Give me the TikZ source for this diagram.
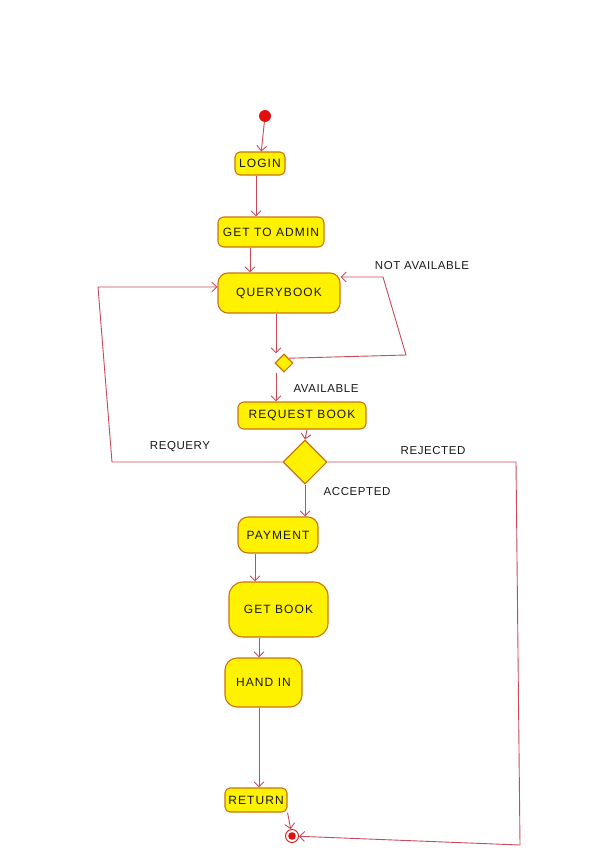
\documentclass[tikz,border=0pt]{standalone}
\usepackage{fontspec}
\setmainfont{Liberation Sans}[LetterSpace=5]
\newfontfamily\boxfont{Liberation Sans}[LetterSpace=9]
\usetikzlibrary{arrows.meta,shapes.geometric,calc}
\definecolor{boxfill}{HTML}{FFF200}
\definecolor{boxline}{HTML}{C8740E}
\definecolor{flow}{HTML}{C84A5A}
\definecolor{dotred}{HTML}{E01010}
\tikzset{
  act/.style={draw=boxline, line width=1.1pt, fill=boxfill, rounded corners=#1, inner sep=0pt, font=\boxfont\fontsize{12}{14}\selectfont, text=black!90},
  act/.default=6pt,
  choice/.style={draw=boxline, line width=1.1pt, fill=boxfill, diamond, inner sep=0pt, aspect=1},
  flowline/.style={draw=flow, line width=0.9pt, -{Straight Barb[length=5pt,width=10pt]}},
  lbl/.style={font=\fontsize{11.5}{13}\selectfont, text=black!90}
}
\begin{document}
\begin{tikzpicture}[x=1pt,y=-1pt]
\useasboundingbox (0,0) rectangle (590,856);
\fill[white] (0,0) rectangle (590,856);
% nodes
\node[circle, fill=dotred, minimum size=12pt, inner sep=0pt] (start) at (265,116) {};
\node[act=5pt, minimum width=50pt, minimum height=23pt] (login) at (260,163.5) {LOGIN};
\node[act=6pt, minimum width=106pt, minimum height=30pt] (admin) at (271,232) {GET TO ADMIN};
\node[act=10pt, minimum width=122pt, minimum height=40pt] (query) at (279,293) {QUERYBOOK};
\node[choice, minimum size=18pt] (d1) at (284,363) {};
\node[act=6pt, minimum width=128pt, minimum height=27pt] (req) at (302,415.5) {REQUEST BOOK};
\node[choice, minimum size=44pt] (d2) at (305,462) {};
\node[act=10pt, minimum width=80pt, minimum height=36pt] (pay) at (278,535) {PAYMENT};
\node[act=14pt, minimum width=99pt, minimum height=55pt] (getbook) at (278.5,609.5) {GET BOOK};
\node[act=12pt, minimum width=77pt, minimum height=49pt] (handin) at (263.5,682.5) {HAND IN};
\node[act=5pt, minimum width=62pt, minimum height=24pt] (ret) at (256,800) {RETURN};
\node[circle, draw=dotred, line width=0.9pt, fill=white, minimum size=13pt, inner sep=0pt,
  path picture={\fill[dotred] (path picture bounding box.center) circle (3.8pt);}] (final) at (292,836) {};
% waypoints
\coordinate (na1) at (406,355);
\coordinate (na2) at (383,277);
\coordinate (rq1) at (112,462);
\coordinate (rq2) at (98,287);
\coordinate (rj1) at (516,462);
\coordinate (rj2) at (520,845);
\coordinate (s1) at ($(login.south)+(-4,0)$);
\coordinate (s2) at ($(admin.south)+(-21,0)$);
\coordinate (s3) at ($(query.south)+(-3,0)$);
\coordinate (s4) at ($(d1.south)+(-8,0)$);
\coordinate (s5) at ($(req.south)+(5,0)$);
\coordinate (s6) at ($(pay.south)+(-23,0)$);
\coordinate (s7) at ($(getbook.south)+(-19.5,0)$);
\coordinate (s8) at ($(handin.south)+(-4.5,0)$);
\coordinate (qe) at ($(query.east)+(0,-16)$);
\coordinate (qw) at ($(query.west)+(0,-6)$);
% connectors
\draw[flowline] (start) -- (login);
\draw[flowline] (s1) -- (s1 |- admin.north);
\draw[flowline] (s2) -- (s2 |- query.north);
\draw[flowline] (s3) -- (s3 |- d1.north);
\draw[flowline] (s4) -- (s4 |- req.north);
\draw[flowline] (d1.north east) -- (na1) -- (na2) -- (qe);
\draw[flowline] (s5) -- (d2.north);
\draw[flowline] (d2.west) -- (rq1) -- (rq2) -- (qw);
\draw[flowline] (d2.east) -- (rj1) -- (rj2) -- (final);
\draw[flowline] (d2.south) -- (d2.south |- pay.north);
\draw[flowline] (s6) -- (s6 |- getbook.north);
\draw[flowline] (s7) -- (s7 |- handin.north);
\draw[flowline] (s8) -- (s8 |- ret.north);
\draw[flowline] (ret.south east) -- (final);
% labels
\node[lbl] (lna) at (422,266) {NOT AVAILABLE};
\node[lbl] (lav) at (326,389) {AVAILABLE};
\node[lbl] (lrq) at (180,447) {REQUERY};
\node[lbl] (lrj) at (433,451) {REJECTED};
\node[lbl] (lac) at (357,492) {ACCEPTED};
\end{tikzpicture}
\end{document}
